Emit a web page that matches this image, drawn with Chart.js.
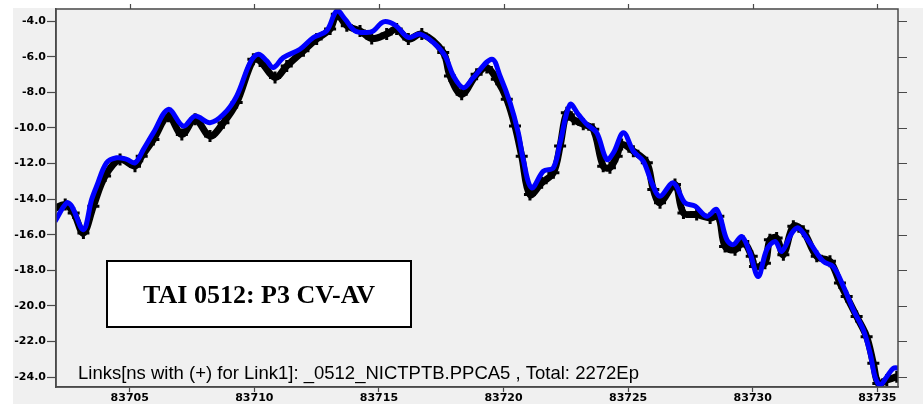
<!DOCTYPE html>
<html>
<head>
<meta charset="utf-8">
<script src="https://cdn.jsdelivr.net/npm/chart.js@4"></script>
<style>
  html, body { margin: 0; padding: 0; background: #ffffff; }
  #wrap { position: relative; width: 923px; height: 404px; }
  canvas { display: block; }
</style>
</head>
<body>
<div id="wrap"><canvas id="c" width="923" height="404"></canvas></div>
<script>
// ---- data (MJD, ns) ----
const blueMjd = [83702.00,83702.47,83702.67,83703.14,83703.47,83703.67,83704.07,83704.47,83704.88,83705.21,
  83705.55,83705.95,83706.55,83707.15,83707.62,83708.22,83708.76,83709.29,83709.83,83710.16,
  83710.50,83710.76,83711.16,83711.83,83712.37,83712.90,83713.31,83713.64,83714.04,83714.51,
  83714.78,83715.18,83715.65,83716.18,83716.65,83717.18,83717.65,83717.99,83718.39,83718.79,
  83719.53,83719.86,83720.26,83720.59,83720.79,83721.13,83721.60,83722.00,83722.27,83722.67,
  83723.00,83723.34,83723.74,83724.14,83724.41,83724.81,83725.21,83725.61,83725.95,83726.28,
  83726.81,83727.28,83727.69,83728.15,83728.56,83728.96,83729.22,83729.56,83729.89,83730.22,
  83730.56,83730.90,83731.16,83731.57,83731.83,83732.30,83732.83,83733.23,83733.64,83734.04,
  83734.44,83734.71,83734.91,83735.11,83735.38,83735.64,83735.91];
const blueNs = [-15.25,-14.21,-14.40,-15.72,-14.03,-13.28,-11.96,-11.68,-11.77,-11.96,
  -11.21,-10.27,-8.96,-9.90,-9.34,-9.71,-9.24,-8.21,-6.33,-5.86,
  -6.24,-6.61,-6.05,-5.58,-4.92,-4.55,-3.42,-3.89,-4.55,-4.64,
  -4.55,-4.04,-4.23,-4.92,-4.73,-5.20,-5.95,-7.08,-7.74,-7.17,
  -6.14,-7.08,-8.58,-10.27,-11.77,-13.37,-12.43,-12.24,-10.83,-8.68,
  -9.24,-9.80,-10.27,-11.77,-11.40,-10.27,-11.31,-11.87,-13.09,-13.84,
  -13.09,-14.21,-14.40,-14.97,-14.59,-16.28,-16.56,-16.10,-17.03,-18.35,
  -16.85,-16.38,-16.94,-15.91,-15.62,-16.47,-17.50,-17.79,-18.91,-20.23,
  -21.35,-22.66,-23.98,-24.45,-23.98,-23.51,-23.51];

const blackMjd = [83701.95,83702.41,83702.75,83703.14,83703.54,83704.01,83704.61,83705.21,83705.48,83705.95,
  83706.55,83707.09,83707.62,83708.22,83708.76,83709.29,83709.96,83710.23,83710.83,83711.30,
  83711.97,83712.50,83713.04,83713.31,83713.71,83714.24,83714.71,83715.31,83715.71,83716.18,
  83716.72,83717.58,83717.85,83718.32,83718.92,83719.33,83719.73,83720.13,83720.46,83720.73,
  83721.06,83721.53,83722.00,83722.27,83722.54,83722.80,83723.20,83723.60,83724.00,83724.27,
  83724.54,83724.74,83725.21,83725.75,83726.01,83726.28,83726.88,83727.22,83727.75,83728.29,
  83728.62,83728.89,83729.29,83729.62,83729.96,83730.09,83730.49,83730.69,83730.96,83731.23,
  83731.63,83732.03,83732.57,83733.10,83733.50,83733.77,83734.17,83734.57,83734.84,83735.04,
  83735.38,83735.78];
const blackNs = [-14.55,-14.31,-14.78,-15.91,-14.40,-12.71,-11.77,-12.15,-11.59,-10.65,
  -9.34,-10.37,-9.52,-10.46,-9.71,-8.58,-6.14,-6.24,-7.17,-6.52,
  -5.67,-5.01,-4.45,-3.61,-4.26,-4.55,-4.98,-4.73,-4.45,-5.01,
  -4.73,-5.76,-7.08,-8.11,-6.99,-6.61,-7.27,-8.39,-9.90,-11.59,
  -13.75,-13.09,-12.52,-11.02,-9.15,-9.52,-9.80,-10.08,-12.15,-12.24,
  -11.59,-10.93,-11.31,-11.96,-13.46,-14.21,-13.18,-14.78,-14.87,-15.06,
  -14.97,-16.66,-16.85,-16.38,-17.22,-17.79,-17.60,-16.28,-16.19,-17.13,
  -15.53,-15.81,-17.22,-17.50,-18.72,-19.48,-20.60,-21.73,-23.23,-24.36,
  -24.17,-23.98];

const xTicks = [83705, 83710, 83715, 83720, 83725, 83730, 83735];
const yTicks = [-4, -6, -8, -10, -12, -14, -16, -18, -20, -22, -24];
const boxTitle = 'TAI 0512: P3 CV-AV';
const footText = 'Links[ns with (+) for Link1]: _0512_NICTPTB.PPCA5 , Total: 2272Ep';

const FRAME = '#4a4a4a';
const tickFont = { family: 'DejaVu Sans', size: 11, weight: 'bold' };

const bluePts = blueMjd.map((x, i) => ({ x, y: blueNs[i] }));
const blackPts = blackMjd.map((x, i) => ({ x, y: blackNs[i] }));

const decor = {
  id: 'decor',
  beforeDraw(chart) {
    const ctx = chart.ctx;
    ctx.save();
    ctx.fillStyle = '#ffffff';
    ctx.fillRect(0, 0, chart.width, chart.height);
    ctx.fillStyle = '#f0f0f0';
    ctx.fillRect(13, 8, chart.width - 13, chart.height - 8);
    ctx.restore();
  },
  afterDatasetsDraw(chart) {
    const ctx = chart.ctx;
    const a = chart.chartArea;
    const xs = chart.scales.x, ys = chart.scales.y;
    ctx.save();
    ctx.strokeStyle = FRAME;
    ctx.lineWidth = 1.5;
    ctx.strokeRect(a.left, a.top, a.right - a.left, a.bottom - a.top);
    ctx.lineWidth = 1.2;
    ctx.beginPath();
    xTicks.forEach(v => {
      const px = Math.round(xs.getPixelForValue(v)) + 0.5;
      ctx.moveTo(px, a.top); ctx.lineTo(px, a.top - 5);
    });
    yTicks.forEach(v => {
      const py = Math.round(ys.getPixelForValue(v)) + 0.5;
      ctx.moveTo(a.right, py); ctx.lineTo(a.right + 9, py);
    });
    ctx.stroke();
    ctx.fillStyle = '#ffffff';
    ctx.fillRect(106, 260, 306, 68);
    ctx.strokeStyle = '#000000';
    ctx.lineWidth = 2;
    ctx.strokeRect(107, 261, 304, 66);
    ctx.fillStyle = '#000000';
    ctx.font = 'bold 26px "Liberation Serif", "Times New Roman", serif';
    ctx.textAlign = 'center';
    ctx.textBaseline = 'alphabetic';
    ctx.fillText(boxTitle, 259, 303);
    ctx.font = '18.5px "Liberation Sans", Arial, sans-serif';
    ctx.textAlign = 'left';
    ctx.fillText(footText, 78, 379);
    ctx.restore();
  }
};

new Chart(document.getElementById('c'), {
  type: 'line',
  data: {
    datasets: [
      {
        label: 'Link1 (+)',
        data: blackPts,
        borderColor: '#000000',
        backgroundColor: '#000000',
        borderWidth: 7,
        tension: 0.35,
        pointStyle: 'cross',
        pointRadius: 6,
        pointBorderWidth: 3,
        pointBorderColor: '#000000',
        order: 2
      },
      {
        label: 'Link2',
        data: bluePts,
        borderColor: '#0000ff',
        backgroundColor: '#0000ff',
        borderWidth: 5,
        tension: 0.35,
        pointRadius: 0,
        order: 1
      }
    ]
  },
  options: {
    responsive: false,
    animation: false,
    devicePixelRatio: 1,
    layout: { padding: { left: 0, top: 9, right: 25, bottom: 0 } },
    plugins: { legend: { display: false }, tooltip: { enabled: false } },
    scales: {
      x: {
        type: 'linear',
        min: 83702.04,
        max: 83735.83,
        afterBuildTicks: s => { s.ticks = xTicks.map(v => ({ value: v })); },
        afterFit: s => { s.height = 17; },
        grid: { drawOnChartArea: false, drawTicks: true, tickLength: 5, tickColor: FRAME, tickWidth: 1.2 },
        border: { display: true, color: FRAME, width: 1.5 },
        ticks: {
          color: '#000000', font: tickFont, padding: 0, maxRotation: 0, autoSkip: false,
          callback: v => String(v)
        }
      },
      y: {
        type: 'linear',
        min: -24.56,
        max: -3.32,
        afterBuildTicks: s => { s.ticks = yTicks.map(v => ({ value: v })); },
        afterFit: s => { s.width = 56; },
        grid: { drawOnChartArea: false, drawTicks: true, tickLength: 9, tickColor: FRAME, tickWidth: 1.2 },
        border: { display: true, color: FRAME, width: 1.5 },
        ticks: {
          color: '#000000', font: tickFont, padding: 1, autoSkip: false,
          callback: v => Number(v).toFixed(1)
        }
      }
    }
  },
  plugins: [decor]
});
</script>
</body>
</html>
